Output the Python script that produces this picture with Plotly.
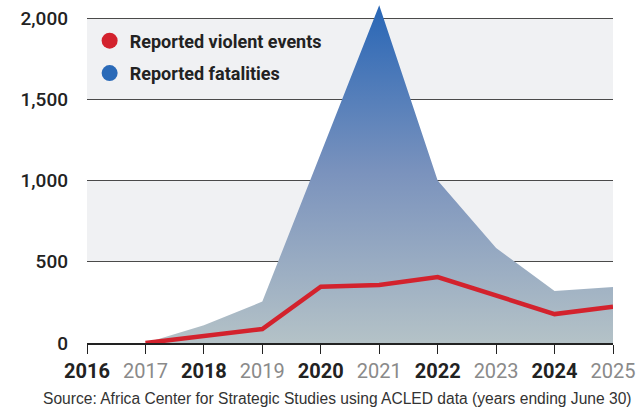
import plotly.graph_objects as go

# Annual totals (years ending June 30)
years = [2017, 2018, 2019, 2020, 2021, 2022, 2023, 2024, 2025]
fatalities = [0, 110, 255, 1165, 2080, 1000, 585, 320, 345]
violent_events = [0, 42, 86, 347, 357, 406, 295, 178, 223]

tick_years = list(range(2016, 2026))
y_ticks = [0, 500, 1000, 1500, 2000]
y_tick_labels = ["0", "500", "1,000", "1,500", "2,000"]

RED = "#d3222d"
BLUE = "#2a6ab8"
FONT = "Roboto, Liberation Sans, sans-serif"

fig = go.Figure()

# Shaded alternate bands behind the grid
for lo, hi in [(500, 1000), (1500, 2000)]:
    fig.add_shape(type="rect", xref="x", yref="y", x0=2016, x1=2025, y0=lo, y1=hi,
                  fillcolor="#f0f1f3", line_width=0, layer="below")

# Fatalities area with vertical gradient
fig.add_trace(go.Scatter(
    x=years, y=fatalities, mode="lines", fill="tozeroy",
    line=dict(width=0, color=BLUE),
    fillgradient=dict(type="vertical", start=0, stop=max(fatalities),
                      colorscale=[[0, "#b4c2c7"], [0.5, "#7b93bd"], [1, "#2866b6"]]),
    showlegend=False, hoverinfo="skip",
))

# Violent events line
fig.add_trace(go.Scatter(
    x=years, y=violent_events, mode="lines",
    line=dict(width=4.5, color=RED),
    showlegend=False,
))

# Legend entries
for name, col, grp in [("Reported violent events", RED, "a"), ("Reported fatalities", BLUE, "b")]:
    fig.add_trace(go.Scatter(
        x=[None], y=[None], mode="markers", name=name, legendgroup=grp,
        marker=dict(color=col, size=16, symbol="circle"),
    ))

# Even years bold and dark, odd years regular and grey
tick_text = []
for yr in tick_years:
    if yr % 2 == 0:
        tick_text.append(f'<span style="color:#222222"><b>{yr}</b></span>')
    else:
        tick_text.append(f'<span style="color:#8a8a8a">{yr}</span>')

fig.update_layout(
    width=644, height=408,
    margin=dict(l=87, r=31, t=2, b=65),
    paper_bgcolor="white", plot_bgcolor="white",
    font=dict(family=FONT, color="#222222"),
    legend=dict(
        x=0.005, y=0.94, xanchor="left", yanchor="top",
        bgcolor="rgba(0,0,0,0)",
        font=dict(family=FONT, size=18, color="#222222", weight="bold"),
        tracegroupgap=6, itemsizing="trace",
    ),
    xaxis=dict(
        range=[2016, 2025], tickmode="array", tickvals=tick_years, ticktext=tick_text,
        showgrid=False, zeroline=False,
        showline=True, linecolor="#222222", linewidth=1.5,
        ticks="outside", ticklen=9, tickwidth=1.2, tickcolor="#222222",
        tickfont=dict(family=FONT, size=20),
        fixedrange=True,
    ),
    yaxis=dict(
        range=[0, 2100], tickmode="array", tickvals=y_ticks, ticktext=y_tick_labels,
        showgrid=True, gridcolor="#4a4a4a", gridwidth=1.2, zeroline=False,
        showline=False, ticks="", ticklabelstandoff=18,
        tickfont=dict(family=FONT, size=19, color="#222222", weight=500),
        fixedrange=True,
    ),
    annotations=[dict(
        text="Source: Africa Center for Strategic Studies using ACLED data (years ending June 30)",
        xref="paper", yref="paper", x=1.04, y=-0.162, xanchor="right", yanchor="middle",
        showarrow=False, font=dict(family="Liberation Sans, Arial, sans-serif", size=15.6, color="#333333"),
    )],
)

fig.write_html("out.html")
